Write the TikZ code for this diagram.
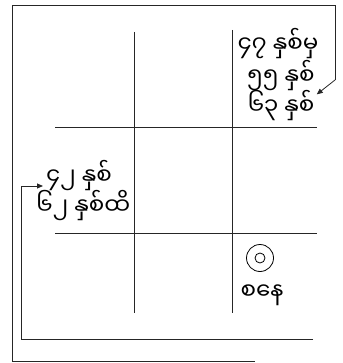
\documentclass[tikz,border=0pt]{standalone}
\usepackage{fontspec}
\newfontfamily\mmfont[Script=Myanmar]{Noto Sans Myanmar UI}
\usetikzlibrary{arrows.meta}

\tikzset{
    gridline/.style={line width=0.8pt, black!85},
    frameline/.style={line width=1pt, black!85},
    mmtext/.style={font=\mmfont\fontsize{23}{26}\selectfont, inner sep=0pt},
    ring/.style={circle, draw, line width=0.8pt, inner sep=0pt},
    pointer/.style={-{Triangle[length=6pt, width=5pt]}, line width=0.8pt, black!85}
}

\begin{document}
\begin{tikzpicture}[x=1pt, y=-1pt]

    \useasboundingbox (0,0) rectangle (342,363);

    %----- GRID -----
    \draw[gridline] (134,32) -- (134,313);
    \draw[gridline] (232,30) -- (232,313);
    \draw[gridline] (55,127) -- (317,127);
    \draw[gridline] (55,233) -- (317,233);

    %----- TOP RIGHT TEXT -----
    \node[mmtext] (ta) at (278,44) {၄၇ နှစ်မှ};
    \node[mmtext] (tb) at (281,76) {၅၅ နှစ်};
    \node[mmtext] (tc) at (281,106) {၆၃ နှစ်};

    %----- LEFT TEXT -----
    \node[mmtext, anchor=west] (la) at (46,176) {၄၂ နှစ်};
    \node[mmtext, anchor=west] (lb) at (36,206) {၆၂ နှစ်ထိ};

    %----- SATURDAY MARK -----
    \node[ring, minimum size=27pt] (sun) at (260,258) {};
    \node[ring, minimum size=10pt] (dot) at (sun) {};
    \node[mmtext] (sat) at (262,295) {စနေ};

    %----- OUTER ARROW (top right) -----
    \coordinate (ob) at (255,361);
    \coordinate (ot) at (335,80);
    \draw[frameline] (ob) -- (12,361) -- (12,6) -- (335,6) -- (ot);
    \draw[pointer] (ot) -- ([xshift=2pt, yshift=-3pt]tb.south east);

    %----- INNER ARROW (left) -----
    \coordinate (ib) at (313,339);
    \draw[pointer] (ib) -- (21,339) -- (21,186) -- ([xshift=-3pt]la.west |- 0,186);

\end{tikzpicture}
\end{document}
